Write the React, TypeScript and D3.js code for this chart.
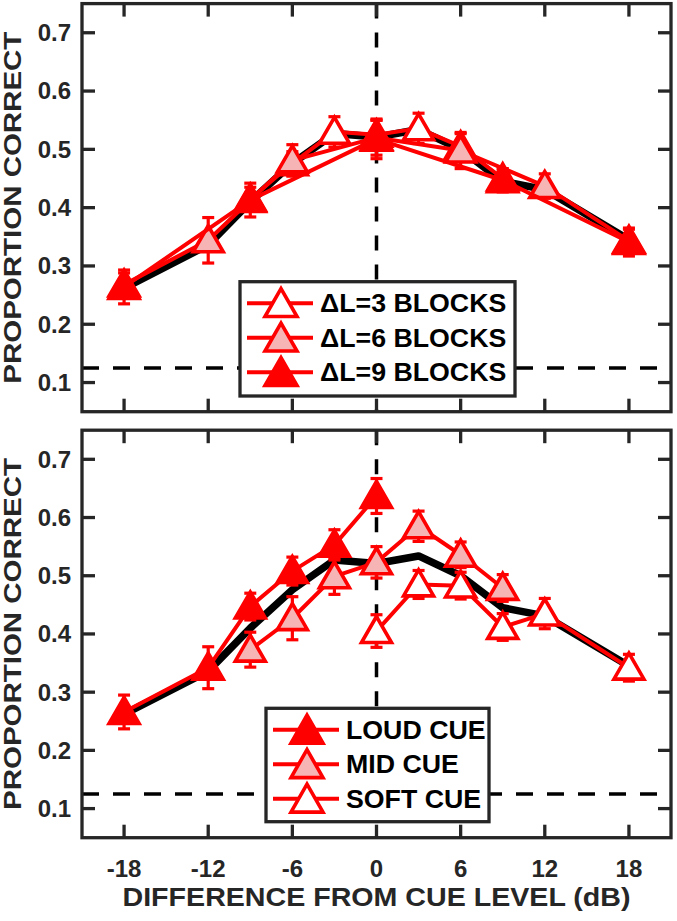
import React from "react";
import * as d3 from "d3";

// overall mean, same in both panels
const levels = [-18, -12, -9, -6, -3, 0, 3, 6, 9, 12, 18];
const meanCorrect = [0.262, 0.336, 0.41, 0.476, 0.527, 0.521, 0.534, 0.5, 0.445, 0.431, 0.345];

// top panel: step size blocks
const dl3Levels = [-9, -6, -3, 0, 3, 6, 9];
const dl3Correct = [0.415, 0.476, 0.53, 0.525, 0.536, 0.505, 0.45];
const dl3Err = [0.02, 0.02, 0.026, 0.025, 0.026, 0.022, 0.016];

const dl6Levels = [-18, -12, -6, 0, 6, 12, 18];
const dl6Correct = [0.268, 0.344, 0.481, 0.52, 0.498, 0.437, 0.343];
const dl6Err = [0.02, 0.039, 0.027, 0.03, 0.031, 0.021, 0.02];

const dl9Levels = [-18, -9, 0, 9, 18];
const dl9Correct = [0.264, 0.413, 0.518, 0.447, 0.341];
const dl9Err = [0.029, 0.029, 0.034, 0.02, 0.024];

// bottom panel: cue level
const loudLevels = [-18, -12, -9, -6, -3, 0];
const loudCorrect = [0.266, 0.342, 0.447, 0.508, 0.553, 0.637];
const loudErr = [0.029, 0.036, 0.023, 0.024, 0.026, 0.03];

const midLevels = [-9, -6, -3, 0, 3, 6, 9];
const midCorrect = [0.373, 0.427, 0.499, 0.523, 0.585, 0.536, 0.479];
const midErr = [0.03, 0.037, 0.031, 0.027, 0.026, 0.022, 0.023];

const softLevels = [0, 3, 6, 9, 12, 18];
const softCorrect = [0.405, 0.485, 0.483, 0.412, 0.435, 0.342];
const softErr = [0.028, 0.024, 0.023, 0.023, 0.026, 0.023];

const xTicks = [-18, -12, -6, 0, 6, 12, 18];
const yTicks = [0.1, 0.2, 0.3, 0.4, 0.5, 0.6, 0.7];
const chanceLevel = 0.125;

const topLabels = ["\u0394L=3 BLOCKS", "\u0394L=6 BLOCKS", "\u0394L=9 BLOCKS"];
const bottomLabels = ["LOUD CUE", "MID CUE", "SOFT CUE"];

const RED = "#ff0000";
const PINK = "#f7b4b4";
const AX = "#262626";
const FONT = "'Liberation Sans', Arial, sans-serif";

const W = 677, H = 921;
const left = 82, right = 671;

const x = d3.scaleLinear().domain([-21, 21]).range([left, right]);

function tri(cx, cy, w = 30, h = 26) {
  return `${cx},${cy - h * 0.56} ${cx - w / 2},${cy + h * 0.44} ${cx + w / 2},${cy + h * 0.44}`;
}

function Series({ xs, ys, es, fill, y }) {
  const line = d3.line().x((d, i) => x(xs[i])).y(d => y(d));
  return (
    <g>
      <path d={line(ys)} fill="none" stroke={RED} strokeWidth={4} strokeLinejoin="round" />
      {ys.map((v, i) => (
        <g key={i} stroke={RED} strokeWidth={3.2}>
          <line x1={x(xs[i])} x2={x(xs[i])} y1={y(v - es[i])} y2={y(v + es[i])} />
          <line x1={x(xs[i]) - 6} x2={x(xs[i]) + 6} y1={y(v - es[i])} y2={y(v - es[i])} />
          <line x1={x(xs[i]) - 6} x2={x(xs[i]) + 6} y1={y(v + es[i])} y2={y(v + es[i])} />
        </g>
      ))}
      {ys.map((v, i) => (
        <polygon key={i} points={tri(x(xs[i]), y(v))} fill={fill} stroke={RED} strokeWidth={3.6} />
      ))}
    </g>
  );
}

function Panel({ top, bottom, series, labels, legend, showX }) {
  const y = d3.scaleLinear().domain([0.05, 0.75]).range([bottom, top]);
  const meanLine = d3.line().x((d, i) => x(levels[i])).y(d => y(d));
  const tl = 13;
  const rowH = 34.5;
  return (
    <g>
      <line x1={x(0)} x2={x(0)} y1={top} y2={bottom} stroke="#000" strokeWidth={3.5} strokeDasharray="15 14" />
      <line x1={left} x2={right} y1={y(chanceLevel)} y2={y(chanceLevel)} stroke="#000" strokeWidth={3.5} strokeDasharray="17 14" />
      <path d={meanLine(meanCorrect)} fill="none" stroke="#000" strokeWidth={7.5} strokeLinejoin="round" />
      {series.map((s, i) => <Series key={i} {...s} y={y} />)}
      <g stroke={AX} strokeWidth={3.3}>
        {xTicks.map(t => (
          <g key={t}>
            <line x1={x(t)} x2={x(t)} y1={bottom} y2={bottom - tl} />
            <line x1={x(t)} x2={x(t)} y1={top} y2={top + tl} />
          </g>
        ))}
        {yTicks.map(t => (
          <g key={t}>
            <line x1={left} x2={left + tl} y1={y(t)} y2={y(t)} />
            <line x1={right} x2={right - tl} y1={y(t)} y2={y(t)} />
          </g>
        ))}
        <rect x={left} y={top} width={right - left} height={bottom - top} fill="none" />
      </g>
      <g fontFamily={FONT} fontWeight="bold" fontSize={24} fill={AX}>
        {yTicks.map(t => (
          <text key={t} x={left - 11} y={y(t)} dy="0.35em" textAnchor="end">{t.toFixed(1)}</text>
        ))}
        {showX && xTicks.map(t => (
          <text key={t} x={x(t)} y={bottom + 39} textAnchor="middle">{t}</text>
        ))}
      </g>
      <text transform={`translate(${20.5},${(top + bottom) / 2}) rotate(-90)`} textAnchor="middle"
        textLength={352} lengthAdjust="spacingAndGlyphs"
        fontFamily={FONT} fontWeight="bold" fontSize={23.5} fill={AX}>PROPORTION CORRECT</text>
      <g>
        <rect x={legend.x} y={legend.y} width={legend.w} height={legend.h} fill="#fff" stroke={AX} strokeWidth={3.3} />
        {legend.order.map((si, r) => {
          const cy = legend.y + 21.5 + r * rowH;
          return (
            <g key={r}>
              <line x1={legend.x + 7} x2={legend.x + 73} y1={cy} y2={cy} stroke={RED} strokeWidth={4} />
              <polygon points={tri(legend.x + 41, cy + 1, 32, 28)} fill={series[si].fill} stroke={RED} strokeWidth={3.6} />
              <text x={legend.x + 80} y={cy} dy="0.36em" transform={`translate(${legend.x + 80},0) scale(1.07,1) translate(${-(legend.x + 80)},0)`}
                fontFamily={FONT} fontWeight="bold" fontSize={25} fill="#000">{labels[r]}</text>
            </g>
          );
        })}
      </g>
    </g>
  );
}

export default function App() {
  const topSeries = [
    { xs: dl3Levels, ys: dl3Correct, es: dl3Err, fill: "#fff" },
    { xs: dl6Levels, ys: dl6Correct, es: dl6Err, fill: PINK },
    { xs: dl9Levels, ys: dl9Correct, es: dl9Err, fill: RED },
  ];
  const bottomSeries = [
    { xs: loudLevels, ys: loudCorrect, es: loudErr, fill: RED },
    { xs: midLevels, ys: midCorrect, es: midErr, fill: PINK },
    { xs: softLevels, ys: softCorrect, es: softErr, fill: "#fff" },
  ];
  return (
    <svg width={W} height={H} style={{ position: "absolute", left: 0, top: 0, background: "#fff" }}>
      <Panel top={3.6} bottom={411.7} series={topSeries} labels={topLabels} showX={false}
        legend={{ x: 240, y: 281.7, w: 275, h: 114.3, order: [0, 1, 2] }} />
      <Panel top={430.2} bottom={837.7} series={bottomSeries} labels={bottomLabels} showX={true}
        legend={{ x: 266, y: 708.3, w: 223, h: 113.4, order: [0, 1, 2] }} />
      <text x={x(0)} y={906} textAnchor="middle" textLength={508} lengthAdjust="spacingAndGlyphs"
        fontFamily={FONT} fontWeight="bold" fontSize={25.5} fill={AX}>
        DIFFERENCE FROM CUE LEVEL (dB)
      </text>
    </svg>
  );
}
